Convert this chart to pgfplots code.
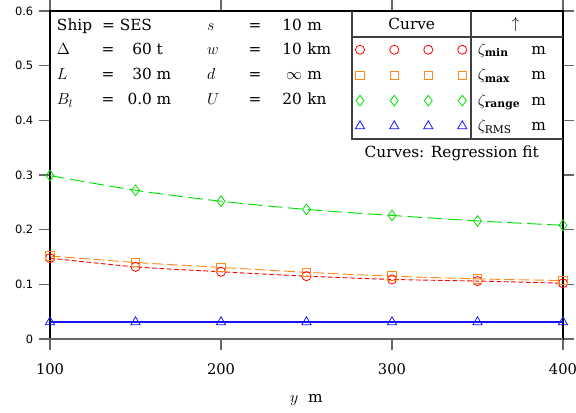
\documentclass[border=0pt]{standalone}
\usepackage{pgfplots}
\pgfplotsset{compat=1.18}
\usepackage{fontspec}
\setmainfont{DejaVu Serif}
\newfontfamily\sansfont{DejaVu Sans}
\definecolor{cred}{RGB}{255,0,0}
\definecolor{corange}{RGB}{255,140,26}
\definecolor{cgreen}{RGB}{0,225,0}
\definecolor{cblue}{RGB}{20,20,255}
\begin{document}
\fontsize{11.5pt}{14pt}\selectfont
\begin{tikzpicture}[pn/.style={inner sep=0pt, outer sep=0pt}]
\begin{axis}[
  at={(0pt,0pt)}, anchor=south west,
  scale only axis, width=384.75pt, height=246pt,
  xmin=100, xmax=400, ymin=0, ymax=0.6,
  xtick={100,200,300,400},
  ytick={0,0.1,0.2,0.3,0.4,0.5,0.6},
  yticklabels={0,0.1,0.2,0.3,0.4,0.5,0.6},
  tick align=outside, major tick length=8.5pt,
  tick style={black!60, line width=0.8pt},
  axis line style={line width=0.8pt},
  /pgf/number format/assume math mode=true,
  xticklabel style={font=\fontsize{11pt}{13pt}\selectfont, yshift=-6pt},
  yticklabel style={font=\sansfont\fontsize{8.6pt}{10pt}\selectfont},
  xlabel={$y$\ \ m},
  xlabel style={at={(axis description cs:0.5,0)}, anchor=center, yshift=-46pt},
  legend style={at={(axis description cs:0.5887,0.9207)}, anchor=north west,
    draw=none, fill=none, inner sep=0pt, outer sep=0pt,
    row sep=0pt, column sep=0pt,
    nodes={inner sep=0pt, outer sep=0pt}},
  legend cell align=left,
  legend image code/.code={
    \path[draw=none, fill=none] (0pt,-9.55pt) rectangle (89.25pt,9.55pt);
    \draw[#1, solid] plot[only marks] coordinates {(6pt,0pt) (31.7pt,0pt) (57.2pt,0pt) (82.7pt,0pt)};
  },
]
\addplot[cred, line width=0.7pt, dash pattern=on 3.5pt off 2pt, mark=o, mark size=3.4pt, mark options={solid, line width=0.6pt}, smooth]
  coordinates {(100,0.148) (150,0.132) (200,0.123) (250,0.115) (300,0.109) (350,0.106) (400,0.102)};
\addlegendentry{\hspace{5.25pt}\makebox[40pt][l]{$\zeta_{\mathbf{min}}$}m}
\addplot[corange, line width=0.7pt, dash pattern=on 8pt off 3pt, mark=square, mark size=3.2pt, mark options={solid, line width=0.6pt}, smooth]
  coordinates {(100,0.152) (150,0.140) (200,0.131) (250,0.122) (300,0.115) (350,0.110) (400,0.107)};
\addlegendentry{\hspace{5.25pt}\makebox[40pt][l]{$\zeta_{\mathbf{max}}$}m}
\addplot[cgreen, line width=0.7pt, dash pattern=on 11pt off 4pt, mark=diamond, mark size=4pt, mark options={solid, line width=0.6pt}, smooth]
  coordinates {(100,0.299) (150,0.272) (200,0.252) (250,0.237) (300,0.226) (350,0.216) (400,0.208)};
\addlegendentry{\hspace{5.25pt}\makebox[40pt][l]{$\zeta_{\mathbf{range}}$}m}
\addplot[cblue, line width=0.9pt, mark=triangle, mark size=4pt, mark options={solid, line width=0.6pt}]
  coordinates {(100,0.031) (150,0.031) (200,0.031) (250,0.031) (300,0.031) (350,0.031) (400,0.031)};
\addlegendentry{\hspace{5.25pt}\makebox[40pt][l]{$\zeta_{\mathrm{RMS}}$}m}
\end{axis}
\draw[black!60, line width=0.8pt] (-8.5pt,0pt) -- (384.75pt,0pt);
% legend table lines
\draw[black!75, line width=0.8pt] (226.5pt,246pt) -- (226.5pt,150pt) -- (384.75pt,150pt);
\draw[black!75, line width=0.8pt] (226.5pt,226.5pt) -- (384.75pt,226.5pt);
\draw[black!75, line width=0.8pt] (315.75pt,246pt) -- (315.75pt,150pt);
\node at (271.3pt,236.25pt) {Curve};
\node at (349.3pt,236.25pt) {$\uparrow$};
\node at (301.3pt,139.5pt) {Curves: Regression fit};
% parameter box (baselines)
\node[pn, anchor=base west] at (5.25pt,231.2pt) {Ship};
\node[pn, anchor=base] at (44pt,231.2pt) {=};
\node[pn, anchor=base east] at (76.5pt,231.2pt) {SES};
\node[pn, anchor=base west] at (5.25pt,213.4pt) {$\Delta$};
\node[pn, anchor=base] at (43.5pt,213.4pt) {=};
\node[pn, anchor=base east] at (76.5pt,213.4pt) {60};
\node[pn, anchor=base west] at (80pt,213.4pt) {t};
\node[pn, anchor=base west] at (5.25pt,194.45pt) {$L$};
\node[pn, anchor=base] at (43.5pt,194.45pt) {=};
\node[pn, anchor=base east] at (76.5pt,194.45pt) {30};
\node[pn, anchor=base west] at (80pt,194.45pt) {m};
\node[pn, anchor=base west] at (5.25pt,175.7pt) {$B_l$};
\node[pn, anchor=base] at (43.5pt,175.7pt) {=};
\node[pn, anchor=base east] at (76.5pt,175.7pt) {0.0};
\node[pn, anchor=base west] at (80pt,175.7pt) {m};
\node[pn, anchor=base west] at (117.75pt,231.2pt) {$s$};
\node[pn, anchor=base] at (153.75pt,231.2pt) {=};
\node[pn, anchor=base east] at (189pt,231.2pt) {10};
\node[pn, anchor=base west] at (193pt,231.2pt) {m};
\node[pn, anchor=base west] at (117.75pt,213.4pt) {$w$};
\node[pn, anchor=base] at (153.75pt,213.4pt) {=};
\node[pn, anchor=base east] at (189pt,213.4pt) {10};
\node[pn, anchor=base west] at (193pt,213.4pt) {km};
\node[pn, anchor=base west] at (117.75pt,194.45pt) {$d$};
\node[pn, anchor=base] at (153.75pt,194.45pt) {=};
\node[pn, anchor=base east] at (189pt,194.45pt) {$\infty$};
\node[pn, anchor=base west] at (193pt,194.45pt) {m};
\node[pn, anchor=base west] at (117.75pt,175.7pt) {$U$};
\node[pn, anchor=base] at (153.75pt,175.7pt) {=};
\node[pn, anchor=base east] at (189pt,175.7pt) {20};
\node[pn, anchor=base west] at (193pt,175.7pt) {kn};
\pgfresetboundingbox
\path[use as bounding box] (-37.5pt,-54.75pt) rectangle (394.5pt,254.25pt);
\end{tikzpicture}
\end{document}
